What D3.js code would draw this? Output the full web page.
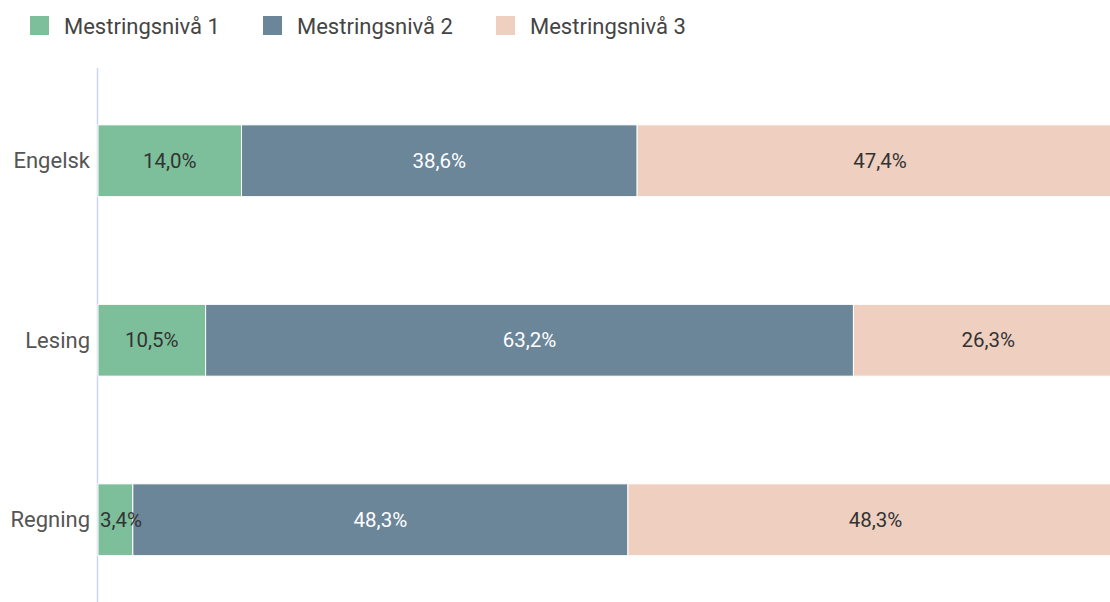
<!DOCTYPE html>
<html>
<head>
<meta charset="utf-8">
<script src="https://cdn.jsdelivr.net/npm/d3@7"></script>
<style>
  body { margin: 0; background: #fff; font-family: Roboto, sans-serif; }
</style>
</head>
<body>
<div id="chart"></div>
<script>
let categories = ['Engelsk', 'Lesing', 'Regning'];
let seriesNames = ['Mestringsnivå 1', 'Mestringsnivå 2', 'Mestringsnivå 3'];
let niva1 = [14.0, 10.5, 3.4];
let niva2 = [38.6, 63.2, 48.3];
let niva3 = [47.4, 26.3, 48.3];
let colors = ['#7dbf9b', '#6b8599', '#eecfc0'];
let textColors = ['#333', '#fff', '#333'];

let width = 1110, height = 602;
let svg = d3.select('#chart').append('svg')
  .attr('width', width)
  .attr('height', height);

let x = d3.scaleLinear().domain([0, 100]).range([98, 1123]);
let y = d3.scaleBand().domain(categories).range([71, 609.5])
  .paddingInner(0.6).paddingOuter(0.3);

let rows = categories.map((c, i) => ({cat: c, Niva1: niva1[i], Niva2: niva2[i], Niva3: niva3[i]}));
let stack = d3.stack().keys(['Niva1', 'Niva2', 'Niva3'])(rows);

// axis line
svg.append('line')
  .attr('x1', 97.5).attr('x2', 97.5)
  .attr('y1', 68).attr('y2', height)
  .style('stroke', '#ccd6eb').style('stroke-width', 1.5);

// bars first, labels in a layer on top
let barLayer = svg.append('g');
let labelLayer = svg.append('g');

barLayer.selectAll('g').data(stack).enter().append('g')
  .attr('fill', (s, i) => colors[i])
  .selectAll('rect').data(d => d).enter().append('rect')
  .attr('x', d => x(d[0]))
  .attr('y', d => y(d.data.cat))
  .attr('width', d => x(d[1]) - x(d[0]))
  .attr('height', y.bandwidth())
  .style('stroke', '#fff').style('stroke-width', 1);

labelLayer.selectAll('g').data(stack).enter().append('g')
  .attr('fill', (s, i) => textColors[i])
  .selectAll('text').data(d => d).enter().append('text')
  .attr('x', d => (x(d[0]) + x(d[1])) / 2)
  .attr('y', d => y(d.data.cat) + y.bandwidth() / 2)
  .attr('dy', '0.35em')
  .attr('text-anchor', 'middle')
  .attr('font-size', '20.5px')
  .text(d => (d[1] - d[0]).toFixed(1).replace('.', ',') + '%')
  .each(function() {
    // keep labels inside the plot area (left edge)
    let w = this.getComputedTextLength();
    let cx = +d3.select(this).attr('x');
    if (cx - w / 2 < 100) d3.select(this).attr('x', 100 + w / 2);
  });

// category labels
svg.selectAll('text.cat').data(categories).enter().append('text')
  .attr('class', 'cat')
  .attr('x', 90)
  .attr('y', d => y(d) + y.bandwidth() / 2)
  .attr('dy', '0.35em')
  .attr('text-anchor', 'end')
  .attr('font-size', '22px')
  .attr('fill', '#555')
  .text(d => d);

// legend
let legendX = [30, 263, 496];
let legend = svg.selectAll('g.legend').data(seriesNames).enter().append('g')
  .attr('class', 'legend')
  .attr('transform', (d, i) => 'translate(' + legendX[i] + ',16)');
legend.append('rect')
  .attr('width', 19).attr('height', 19)
  .attr('fill', (d, i) => colors[i]);
legend.append('text')
  .attr('x', 34).attr('y', 10)
  .attr('dy', '0.35em')
  .attr('font-size', '22px')
  .attr('fill', '#444')
  .text(d => d);
</script>
</body>
</html>
